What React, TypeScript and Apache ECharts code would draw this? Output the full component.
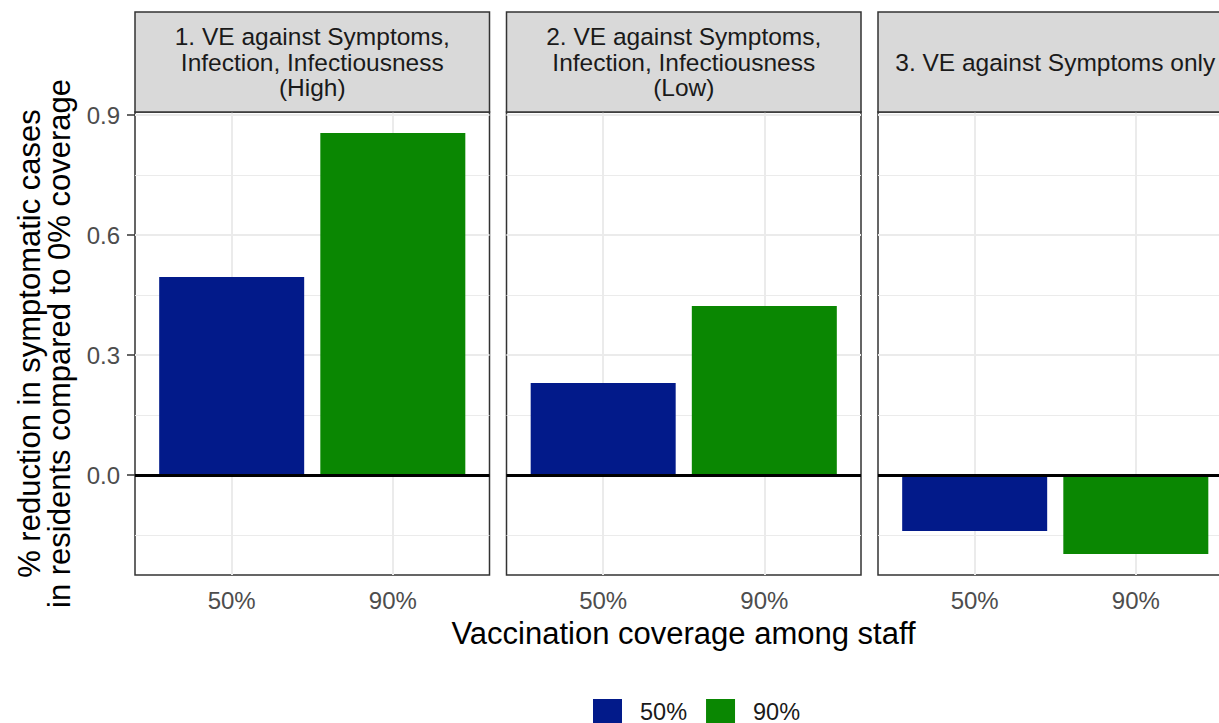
import React, { useEffect, useRef } from "react";
import * as echarts from "echarts";

const facetTitles = [
  "1. VE against Symptoms,\nInfection, Infectiousness\n(High)",
  "2. VE against Symptoms,\nInfection, Infectiousness\n(Low)",
  "3. VE against Symptoms only",
];
const coverageLabels = ["50%", "90%"];
const coveragePositions = [1, 2];
const values50 = [0.495, 0.23, -0.14];
const values90 = [0.855, 0.4225, -0.1975];
const yTicks = [0, 0.3, 0.6, 0.9];
const yMajorGrid = [0.3, 0.6, 0.9];
const yMinorGrid = [-0.15, 0.15, 0.45, 0.75];
const seriesColors = ["#021A8A", "#0A8702"];
const yTitle = "% reduction in symptomatic cases\nin residents compared to 0% coverage";
const xTitle = "Vaccination coverage among staff";

const FONT = "'Liberation Sans', Arial, Helvetica, sans-serif";
const PANEL_LEFT = [135, 506.5, 878];
const PANEL_W = 354.5;
const PANEL_TOP = 112;
const PANEL_H = 463;
const STRIP_TOP = 12;
const STRIP_H = 100;

export default function App() {
  const ref = useRef<HTMLDivElement>(null);

  useEffect(() => {
    if (!ref.current) return;
    const chart = echarts.init(ref.current, undefined, { renderer: "svg" });

    const grids = PANEL_LEFT.map((left) => ({
      left,
      top: PANEL_TOP,
      width: PANEL_W,
      height: PANEL_H,
      show: true,
      borderColor: "#333333",
      borderWidth: 1.5,
      backgroundColor: "#FFFFFF",
      containLabel: false,
    }));

    const xAxes = PANEL_LEFT.map((_, i) => ({
      type: "value",
      gridIndex: i,
      min: 0.4,
      max: 2.6,
      axisLine: { show: false },
      splitLine: { show: false },
      axisTick: {
        show: true,
        customValues: coveragePositions,
        length: 8,
        lineStyle: { color: "#333333", width: 1.5 },
      },
      axisLabel: {
        show: true,
        customValues: coveragePositions,
        formatter: (v: number) => coverageLabels[coveragePositions.indexOf(Math.round(v))] ?? "",
        color: "#4D4D4D",
        fontSize: 24,
        fontFamily: FONT,
        margin: 13,
      },
    }));

    const yAxes = PANEL_LEFT.map((_, i) => ({
      type: "value",
      gridIndex: i,
      min: -0.25,
      max: 0.9075,
      axisLine: { show: false },
      splitLine: { show: false },
      axisTick: {
        show: i === 0,
        customValues: yTicks,
        length: 8,
        lineStyle: { color: "#333333", width: 1.5 },
      },
      axisLabel: {
        show: i === 0,
        customValues: yTicks,
        formatter: (v: number) => v.toFixed(1),
        color: "#4D4D4D",
        fontSize: 24,
        fontFamily: FONT,
        margin: 15,
      },
    }));

    const gridLineData = [
      ...yMinorGrid.map((v) => ({ yAxis: v, lineStyle: { color: "#EBEBEB", width: 1, type: "solid" } })),
      ...yMajorGrid.map((v) => ({ yAxis: v, lineStyle: { color: "#EBEBEB", width: 2, type: "solid" } })),
      ...coveragePositions.map((v) => ({ xAxis: v, lineStyle: { color: "#EBEBEB", width: 2, type: "solid" } })),
    ];

    const series: any[] = [];
    PANEL_LEFT.forEach((_, i) => {
      series.push({
        name: coverageLabels[0],
        type: "bar",
        xAxisIndex: i,
        yAxisIndex: i,
        data: [[coveragePositions[0], values50[i]]],
        barWidth: 145,
        barGap: "-100%",
        itemStyle: { color: seriesColors[0] },
        z: 2,
        markLine: {
          silent: true,
          symbol: "none",
          z: 1,
          animation: false,
          label: { show: false },
          data: gridLineData,
        },
      });
      series.push({
        name: coverageLabels[1],
        type: "bar",
        xAxisIndex: i,
        yAxisIndex: i,
        data: [[coveragePositions[1], values90[i]]],
        barWidth: 145,
        barGap: "-100%",
        itemStyle: { color: seriesColors[1] },
        z: 2,
        markLine: {
          silent: true,
          symbol: "none",
          z: 6,
          animation: false,
          label: { show: false },
          data: [{ yAxis: 0, lineStyle: { color: "#000000", width: 3, type: "solid" } }],
        },
      });
    });

    const graphics: any[] = [];
    PANEL_LEFT.forEach((left, i) => {
      graphics.push({
        type: "rect",
        shape: { x: left, y: STRIP_TOP, width: PANEL_W, height: STRIP_H },
        style: { fill: "#D9D9D9", stroke: "#333333", lineWidth: 1.5 },
        z: 10,
      });
      graphics.push({
        type: "text",
        x: left + PANEL_W / 2,
        y: STRIP_TOP + STRIP_H / 2,
        style: {
          text: facetTitles[i],
          fill: "#1A1A1A",
          fontSize: 24.5,
          fontFamily: FONT,
          lineHeight: 25.5,
          align: "center",
          verticalAlign: "middle",
        },
        z: 11,
      });
    });
    graphics.push({
      type: "text",
      x: 44,
      y: PANEL_TOP + PANEL_H / 2,
      rotation: Math.PI / 2,
      style: {
        text: yTitle,
        fill: "#000000",
        fontSize: 31,
        fontFamily: FONT,
        lineHeight: 30,
        align: "center",
        verticalAlign: "middle",
      },
    });
    graphics.push({
      type: "text",
      x: 683.5,
      y: 633,
      style: {
        text: xTitle,
        fill: "#000000",
        fontSize: 31,
        fontFamily: FONT,
        align: "center",
        verticalAlign: "middle",
      },
    });

    chart.setOption({
      animation: false,
      backgroundColor: "#FFFFFF",
      textStyle: { fontFamily: FONT },
      grid: grids,
      xAxis: xAxes,
      yAxis: yAxes,
      legend: {
        data: coverageLabels,
        top: 694,
        left: 588,
        icon: "rect",
        itemWidth: 29,
        itemHeight: 29,
        itemGap: 19,
        formatter: "{t|{name}}",
        textStyle: {
          fontSize: 23.5,
          color: "#1A1A1A",
          fontFamily: FONT,
          rich: {
            t: {
              fontSize: 23.5,
              color: "#1A1A1A",
              fontFamily: FONT,
              lineHeight: 20,
              padding: [0, 0, 4, 13],
            },
          },
        },
      },
      series,
      graphic: graphics,
    });

    return () => chart.dispose();
  }, []);

  return (
    <div style={{ position: "fixed", left: 0, top: 0, width: 1219, height: 723, overflow: "hidden", background: "#fff" }}>
      <div ref={ref} style={{ position: "absolute", left: 0, top: 0, width: 1240, height: 723 }} />
    </div>
  );
}
